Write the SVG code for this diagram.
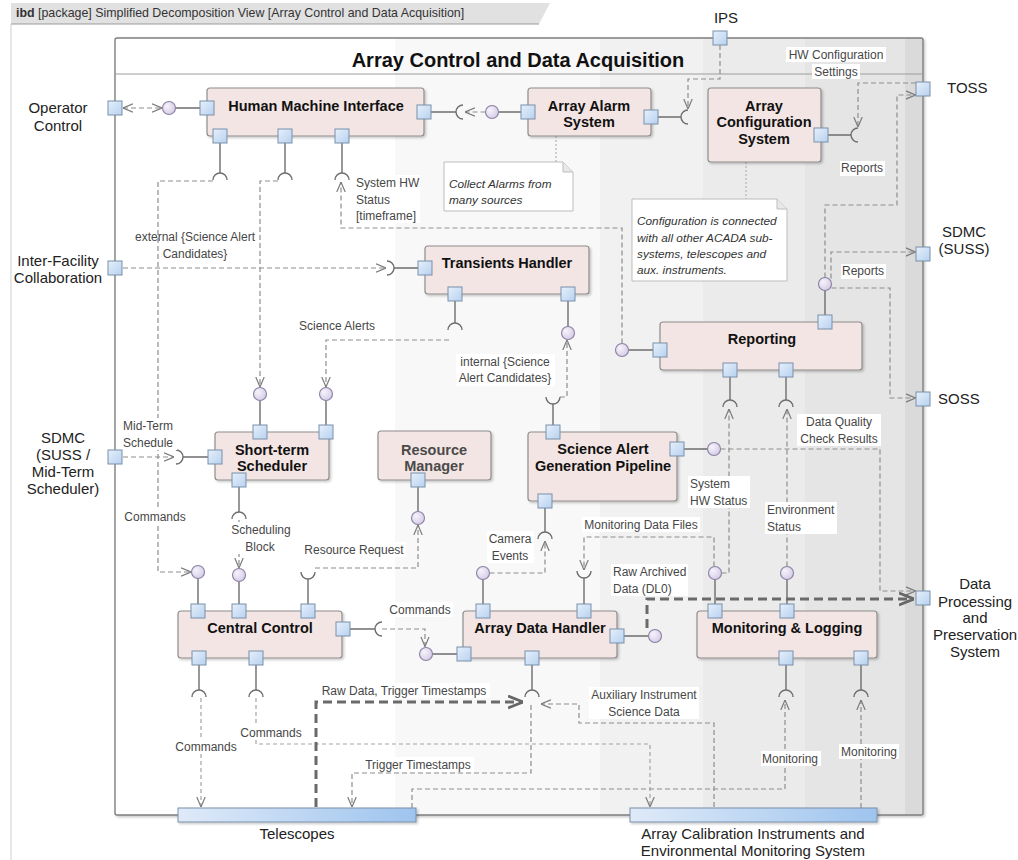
<svg xmlns="http://www.w3.org/2000/svg" width="1018" height="860" viewBox="0 0 1018 860">
<defs>
<linearGradient id="bg" gradientUnits="userSpaceOnUse" x1="115" y1="0" x2="923" y2="0">
<stop offset="0" stop-color="#ffffff"/><stop offset="0.3465" stop-color="#ffffff"/>
<stop offset="0.3465" stop-color="#f8f8f8"/><stop offset="0.6002" stop-color="#f8f8f8"/>
<stop offset="0.6002" stop-color="#f1f1f1"/><stop offset="0.7277" stop-color="#f1f1f1"/>
<stop offset="0.7277" stop-color="#ebebeb"/><stop offset="0.854" stop-color="#ebebeb"/>
<stop offset="0.854" stop-color="#e5e5e5"/><stop offset="0.9777" stop-color="#e5e5e5"/>
<stop offset="0.9777" stop-color="#dadada"/><stop offset="1" stop-color="#dadada"/>
</linearGradient>
<linearGradient id="pg" x1="0" y1="0" x2="1" y2="1"><stop offset="0" stop-color="#e6f0fc"/><stop offset="1" stop-color="#b7d1ef"/></linearGradient>
<linearGradient id="barg" x1="0" y1="0" x2="1" y2="0"><stop offset="0" stop-color="#dfeaf8"/><stop offset="1" stop-color="#9ec4ee"/></linearGradient>
<radialGradient id="ballg" cx="0.35" cy="0.35" r="0.75"><stop offset="0" stop-color="#f6f3fb"/><stop offset="1" stop-color="#d3c9e6"/></radialGradient>
<filter id="sh" x="-5%" y="-5%" width="115%" height="130%"><feDropShadow dx="1.5" dy="1.5" stdDeviation="1.2" flood-color="#000" flood-opacity="0.22"/></filter>
<marker id="arr" viewBox="0 0 10 10" refX="10" refY="5" markerWidth="10" markerHeight="10" orient="auto-start-reverse" markerUnits="userSpaceOnUse"><path d="M0,0.8 L10,5 L0,9.2" fill="none" stroke="#7c7c7c" stroke-width="1.2"/></marker>
<marker id="arrT" viewBox="0 0 10 10" refX="10" refY="5" markerWidth="15" markerHeight="15" orient="auto" markerUnits="userSpaceOnUse"><path d="M0,1 L10,5 L0,9" fill="none" stroke="#666" stroke-width="1.9"/></marker>
</defs>
<style>
.port{fill:url(#pg);stroke:#7a90aa;stroke-width:1}
.comp{fill:#f3e5e3;stroke:#8e8e8e;stroke-width:1.2;filter:url(#sh)}
.ct{font-family:"Liberation Sans",Arial,sans-serif;font-weight:bold;font-size:14.5px;fill:#111;text-anchor:middle}
.ext{font-family:"Liberation Sans",Arial,sans-serif;font-size:15px;fill:#222}
.lbl{font-family:"Liberation Sans",Arial,sans-serif;font-size:12px;fill:#474747}
.note{font-family:"Liberation Sans",Arial,sans-serif;font-style:italic;font-size:11.8px;fill:#333}
.m{text-anchor:middle}
.solid{stroke:#6e6e6e;stroke-width:1.4;fill:none}
.dash{stroke:#8e8e8e;stroke-width:1.2;stroke-dasharray:5 3;fill:none;marker-end:url(#arr)}
.dash2{stroke:#a3a3a3;stroke-width:1.2;stroke-dasharray:4 3;fill:none;marker-end:url(#arr)}
.na{marker-end:none}
.thick{stroke:#6a6a6a;stroke-width:3;stroke-dasharray:9 5;fill:none;marker-end:url(#arrT)}
.dot{stroke:#b4b4b4;stroke-width:1.2;stroke-dasharray:2 2;fill:none}
.ball{fill:url(#ballg);stroke:#8a80a2;stroke-width:1.1}
.sock{fill:none;stroke:#6e6e6e;stroke-width:1.4}
.bgw{fill:#fff}
.notebox{fill:#fff;stroke:#bdbdbd;stroke-width:1}
</style>

<g id="frame">
<line x1="11" y1="24" x2="11" y2="860" stroke="#cfcfcf" stroke-width="1"/>
<path d="M11,3 H550 L539,24 H11 Z" fill="#e1e1e1"/>
<line x1="11" y1="24" x2="539" y2="24" stroke="#9a9a9a" stroke-width="1.2"/>
<text x="16" y="17" font-family="Liberation Sans, Arial, sans-serif" font-size="12.4" fill="#333"><tspan font-weight="bold">ibd</tspan> [package] Simplified Decomposition View [Array Control and Data Acquisition]</text>
</g>

<g id="acada">
<rect x="115" y="38" width="808" height="777" rx="2" fill="url(#bg)" stroke="#7f7f7f" stroke-width="1.4" filter="url(#sh)"/>
<line x1="115" y1="74" x2="923" y2="74" stroke="#9c9c9c" stroke-width="1"/>
<text x="518" y="67" font-family="Liberation Sans, Arial, sans-serif" font-weight="bold" font-size="20" fill="#111" text-anchor="middle">Array Control and Data Acquisition</text>
</g>

<g id="notes">
<line class="dot" x1="556" y1="136" x2="556" y2="162"/>
<line class="dot" x1="746" y1="162" x2="746" y2="199"/>
<path class="notebox" d="M444,162 H563 L573,172 V211 H444 Z"/>
<path d="M563,162 V172 H573" fill="#e8e8e8" stroke="#bdbdbd"/>
<text class="note" x="449" y="188">Collect Alarms from</text>
<text class="note" x="449" y="204">many sources</text>
<path class="notebox" d="M632,199 H777 L787,209 V281 H632 Z"/>
<path d="M777,199 V209 H787" fill="#e8e8e8" stroke="#bdbdbd"/>
<text class="note" x="637" y="225">Configuration is connected</text>
<text class="note" x="637" y="242">with all other ACADA sub-</text>
<text class="note" x="637" y="258">systems, telescopes and</text>
<text class="note" x="637" y="274">aux. instruments.</text>
</g>

<g id="connectors">
<!-- solid port links -->
<path class="solid" d="M175.5,108 H200 M431,112 H456 M498.5,112 H521 M658,117 H681 M828,135 H851 M394,268 H418
M220,143 V173 M285,143 V173 M342,143 V173 M455,301 V323 M568,301 V326.5 M553,425 V404
M628.5,350 H653 M825,315 V290.5 M730,377 V400 M786,377 V400 M715,579.5 V604 M787,579.5 V604
M684,449 H707.5 M624,636 H648.5 M260,400.5 V425 M326,400.5 V425 M183,457 H208 M239,487 V512
M418,487 V511.5 M308,604 V579 M198,604 V578.5 M239,604 V581.5 M350,629 H375 M432.5,654 H457
M483,579.5 V604 M545,508 V532 M584,604 V578 M532,665 V690 M199,665 V690 M256,665 V690
M786,665 V690 M861,665 V690"/>
<!-- sockets -->
<path class="sock" d="M463,105 A7,7 0 0 0 463,119 M688,110 A7,7 0 0 0 688,124 M858,128 A7,7 0 0 0 858,142 M387,261 A7,7 0 0 1 387,275 M176,450 A7,7 0 0 1 176,464 M382,622 A7,7 0 0 0 382,636
M213,180 A7,7 0 0 1 227,180 M278,180 A7,7 0 0 1 292,180 M335,180 A7,7 0 0 1 349,180 M448,330 A7,7 0 0 1 462,330
M723,407 A7,7 0 0 1 737,407 M779,407 A7,7 0 0 1 793,407 M232,519 A7,7 0 0 1 246,519 M538,539 A7,7 0 0 1 552,539
M525,697 A7,7 0 0 1 539,697 M192,697 A7,7 0 0 1 206,697 M249,697 A7,7 0 0 1 263,697 M779,697 A7,7 0 0 1 793,697 M854,697 A7,7 0 0 1 868,697
M546,397 A7,7 0 0 0 560,397 M301,572 A7,7 0 0 0 315,572 M577,571 A7,7 0 0 0 591,571"/>
<!-- balls -->
<circle class="ball" cx="169" cy="108" r="6.5"/>
<circle class="ball" cx="492" cy="112" r="6.5"/>
<circle class="ball" cx="825" cy="284" r="6.5"/>
<circle class="ball" cx="622" cy="350" r="6.5"/>
<circle class="ball" cx="568" cy="333" r="6.5"/>
<circle class="ball" cx="260" cy="394" r="6.5"/>
<circle class="ball" cx="326" cy="394" r="6.5"/>
<circle class="ball" cx="714" cy="449" r="6.5"/>
<circle class="ball" cx="418" cy="518" r="6.5"/>
<circle class="ball" cx="198" cy="572" r="6.5"/>
<circle class="ball" cx="239" cy="575" r="6.5"/>
<circle class="ball" cx="483" cy="573" r="6.5"/>
<circle class="ball" cx="715" cy="573" r="6.5"/>
<circle class="ball" cx="787" cy="573" r="6.5"/>
<circle class="ball" cx="426" cy="654" r="6.5"/>
<circle class="ball" cx="655" cy="636" r="6.5"/>
<!-- dependencies -->
<path class="dash" d="M123,108 H162" marker-start="url(#arr)"/>
<path class="dash" d="M485.5,112 H465"/>
<path class="dash" d="M720,45 V79 H688 V109"/>
<path class="dash" d="M916,83 H858 V127"/>
<path class="dash" d="M825,277.5 V205 H897 V95 H915.5"/>
<path class="dash" d="M831,278.5 V252 H915.5"/>
<path class="dash" d="M831.5,288 H890 V398 H915.5"/>
<path class="dash" d="M123,268 H386"/>
<path class="dash" d="M213,181 H158 V572 H191"/>
<path class="dash" d="M278,181 H260 V387"/>
<path class="dash" d="M622,343.5 V228 H341 V182"/>
<path class="dash" d="M449,340 H326 V387"/>
<path class="dash" d="M560,397 H567 V340"/>
<path class="dash" d="M721.5,573 H729 V409"/>
<path class="dash" d="M787,566.5 V409"/>
<path class="dash" d="M714,566.5 V537 H584 V570"/>
<path class="dash" d="M720.5,449 H880 V591 H915.5"/>
<path class="dash" d="M123,457 H174"/>
<path class="dash" d="M239,520 V568"/>
<path class="dash" d="M315,568 H418 V525"/>
<path class="dash" d="M382,629 H425 V646.5"/>
<path class="dash" d="M489.5,573 H545 V541"/>
<path class="dash" d="M714,807 V723 H579 V704 H541"/>
<path class="dash" d="M531,705 V773 H352 V807"/>
<path class="dash2" d="M201,698 V807"/>
<path class="dash2" d="M256,698 V744 H650 V807"/>
<path class="dash" d="M412,808 V789 H785 V700"/>
<path class="dash" d="M861,808 V700"/>
<path class="thick" d="M647,628 V599 H914"/>
<path class="thick" d="M316,807 V702 H523"/>
</g>

<g id="labels">
<rect class="bgw" x="786" y="47" width="100" height="15"/>
<rect class="bgw" x="812" y="64" width="48" height="15"/>
<text class="lbl m" x="836" y="59">HW Configuration</text>
<text class="lbl m" x="836" y="76">Settings</text>
<rect class="bgw" x="840" y="161" width="45" height="15"/>
<text class="lbl m" x="862" y="172">Reports</text>
<rect class="bgw" x="841" y="264" width="45" height="15"/>
<text class="lbl m" x="863" y="275">Reports</text>
<rect class="bgw" x="354" y="175" width="66" height="48"/>
<text class="lbl" x="356" y="187">System HW</text>
<text class="lbl" x="356" y="204">Status</text>
<text class="lbl" x="356" y="220">[timeframe]</text>
<rect class="bgw" x="160" y="249" width="70" height="15"/>
<text class="lbl m" x="195" y="241">external {Science Alert</text>
<text class="lbl m" x="195" y="258">Candidates}</text>
<text class="lbl m" x="337" y="330">Science Alerts</text>
<rect class="bgw" x="456" y="354" width="99" height="32"/>
<text class="lbl m" x="505" y="366">internal {Science</text>
<text class="lbl m" x="505" y="382">Alert Candidates}</text>
<rect class="bgw" x="121" y="418" width="56" height="32"/>
<text class="lbl" x="123" y="430">Mid-Term</text>
<text class="lbl" x="123" y="447">Schedule</text>
<rect class="bgw" x="122" y="509" width="65" height="15"/>
<text class="lbl m" x="155" y="521">Commands</text>
<rect class="bgw" x="229" y="522" width="64" height="32"/>
<text class="lbl m" x="261" y="534">Scheduling</text>
<text class="lbl m" x="260" y="551">Block</text>
<rect class="bgw" x="303" y="542" width="103" height="15"/>
<text class="lbl m" x="354" y="554">Resource Request</text>
<rect class="bgw" x="797" y="414" width="84" height="32"/>
<text class="lbl m" x="839" y="426">Data Quality</text>
<text class="lbl m" x="839" y="443">Check Results</text>
<rect class="bgw" x="688" y="476" width="62" height="32"/>
<text class="lbl" x="690" y="488">System</text>
<text class="lbl" x="690" y="505">HW Status</text>
<rect class="bgw" x="765" y="502" width="72" height="32"/>
<text class="lbl" x="767" y="514">Environment</text>
<text class="lbl" x="767" y="531">Status</text>
<rect class="bgw" x="582" y="517" width="118" height="15"/>
<text class="lbl m" x="641" y="529">Monitoring Data Files</text>
<rect class="bgw" x="487" y="531" width="47" height="32"/>
<text class="lbl m" x="510" y="543">Camera</text>
<text class="lbl m" x="510" y="560">Events</text>
<rect class="bgw" x="611" y="564" width="77" height="32"/>
<text class="lbl" x="613" y="576">Raw Archived</text>
<text class="lbl" x="613" y="593">Data (DL0)</text>
<rect class="bgw" x="388" y="602" width="65" height="15"/>
<text class="lbl m" x="420" y="614">Commands</text>
<rect class="bgw" x="318" y="683" width="172" height="15"/>
<text class="lbl m" x="404" y="695">Raw Data, Trigger Timestamps</text>
<rect class="bgw" x="589" y="687" width="110" height="32"/>
<text class="lbl m" x="644" y="699">Auxiliary Instrument</text>
<text class="lbl m" x="644" y="716">Science Data</text>
<rect class="bgw" x="239" y="725" width="64" height="15"/>
<text class="lbl m" x="271" y="737">Commands</text>
<rect class="bgw" x="174" y="739" width="64" height="15"/>
<text class="lbl m" x="206" y="751">Commands</text>
<rect class="bgw" x="362" y="757" width="112" height="15"/>
<text class="lbl m" x="418" y="769">Trigger Timestamps</text>
<rect class="bgw" x="761" y="751" width="60" height="15"/>
<text class="lbl m" x="790" y="763">Monitoring</text>
<rect class="bgw" x="839" y="744" width="60" height="15"/>
<text class="lbl m" x="869" y="756">Monitoring</text>
</g>

<g id="hmi">
<rect class="comp" x="207" y="88" width="217" height="48" rx="3"/>
<text class="ct" x="316" y="111">Human Machine Interface</text>
<rect class="port" x="200" y="101" width="14" height="14"/>
<rect class="port" x="417" y="105" width="14" height="14"/>
<rect class="port" x="213" y="129" width="14" height="14"/>
<rect class="port" x="278" y="129" width="14" height="14"/>
<rect class="port" x="335" y="129" width="14" height="14"/>
</g>
<g id="array-alarm-system">
<rect class="comp" x="528" y="88" width="123" height="48" rx="3"/>
<text class="ct" x="589" y="111">Array Alarm</text>
<text class="ct" x="589" y="127">System</text>
<rect class="port" x="521" y="105" width="14" height="14"/>
<rect class="port" x="644" y="110" width="14" height="14"/>
</g>
<g id="array-configuration-system">
<rect class="comp" x="708" y="88" width="113" height="74" rx="3"/>
<text class="ct" x="764" y="111">Array</text>
<text class="ct" x="764" y="127">Configuration</text>
<text class="ct" x="764" y="144">System</text>
<rect class="port" x="814" y="128" width="14" height="14"/>
</g>
<g id="transients-handler">
<rect class="comp" x="425" y="246" width="164" height="48" rx="3"/>
<text class="ct" x="507" y="268">Transients Handler</text>
<rect class="port" x="418" y="261" width="14" height="14"/>
<rect class="port" x="448" y="287" width="14" height="14"/>
<rect class="port" x="561" y="287" width="14" height="14"/>
</g>
<g id="reporting">
<rect class="comp" x="660" y="322" width="202" height="48" rx="3"/>
<text class="ct" x="762" y="344">Reporting</text>
<rect class="port" x="653" y="343" width="14" height="14"/>
<rect class="port" x="818" y="315" width="14" height="14"/>
<rect class="port" x="723" y="363" width="14" height="14"/>
<rect class="port" x="779" y="363" width="14" height="14"/>
</g>
<g id="short-term-scheduler">
<rect class="comp" x="215" y="432" width="114" height="48" rx="3"/>
<text class="ct" x="272" y="455">Short-term</text>
<text class="ct" x="272" y="471">Scheduler</text>
<rect class="port" x="253" y="425" width="14" height="14"/>
<rect class="port" x="319" y="425" width="14" height="14"/>
<rect class="port" x="208" y="450" width="14" height="14"/>
<rect class="port" x="232" y="473" width="14" height="14"/>
</g>
<g id="resource-manager">
<rect class="comp" x="378" y="431" width="113" height="49" rx="3"/>
<text class="ct" x="434" y="455" style="fill:#4a4a4a">Resource</text>
<text class="ct" x="434" y="471" style="fill:#4a4a4a">Manager</text>
<rect class="port" x="411" y="473" width="14" height="14"/>
</g>
<g id="science-alert-generation-pipeline">
<rect class="comp" x="528" y="432" width="149" height="69" rx="3"/>
<text class="ct" x="603" y="454">Science Alert</text>
<text class="ct" x="603" y="471">Generation Pipeline</text>
<rect class="port" x="546" y="425" width="14" height="14"/>
<rect class="port" x="670" y="442" width="14" height="14"/>
<rect class="port" x="538" y="494" width="14" height="14"/>
</g>
<g id="central-control">
<rect class="comp" x="178" y="611" width="164" height="47" rx="3"/>
<text class="ct" x="260" y="633">Central Control</text>
<rect class="port" x="191" y="604" width="14" height="14"/>
<rect class="port" x="232" y="604" width="14" height="14"/>
<rect class="port" x="301" y="604" width="14" height="14"/>
<rect class="port" x="336" y="622" width="14" height="14"/>
<rect class="port" x="192" y="651" width="14" height="14"/>
<rect class="port" x="249" y="651" width="14" height="14"/>
</g>
<g id="array-data-handler">
<rect class="comp" x="463" y="611" width="154" height="47" rx="3"/>
<text class="ct" x="540" y="633">Array Data Handler</text>
<rect class="port" x="476" y="604" width="14" height="14"/>
<rect class="port" x="577" y="604" width="14" height="14"/>
<rect class="port" x="457" y="647" width="14" height="14"/>
<rect class="port" x="610" y="629" width="14" height="14"/>
<rect class="port" x="525" y="651" width="14" height="14"/>
</g>
<g id="monitoring-logging">
<rect class="comp" x="697" y="611" width="180" height="47" rx="3"/>
<text class="ct" x="787" y="633">Monitoring &amp; Logging</text>
<rect class="port" x="708" y="604" width="14" height="14"/>
<rect class="port" x="780" y="604" width="14" height="14"/>
<rect class="port" x="779" y="651" width="14" height="14"/>
<rect class="port" x="854" y="651" width="14" height="14"/>
</g>

<g id="operator-control">
<rect class="port" x="108" y="101" width="14" height="14"/>
<text class="ext m" x="58" y="113">Operator</text>
<text class="ext m" x="58" y="131">Control</text>
</g>
<g id="inter-facility">
<rect class="port" x="108" y="261" width="14" height="14"/>
<text class="ext m" x="58" y="266">Inter-Facility</text>
<text class="ext m" x="58" y="283">Collaboration</text>
</g>
<g id="sdmc-midterm">
<rect class="port" x="108" y="450" width="14" height="14"/>
<text class="ext m" x="63" y="443">SDMC</text>
<text class="ext m" x="63" y="460">(SUSS /</text>
<text class="ext m" x="63" y="477">Mid-Term</text>
<text class="ext m" x="63" y="494">Scheduler)</text>
</g>
<g id="ips">
<rect class="port" x="713" y="31" width="14" height="14"/>
<text class="ext m" x="726" y="23">IPS</text>
</g>
<g id="toss">
<rect class="port" x="916" y="82" width="14" height="14"/>
<text class="ext" x="947" y="93">TOSS</text>
</g>
<g id="sdmc-suss">
<rect class="port" x="916" y="247" width="14" height="14"/>
<text class="ext m" x="964" y="237">SDMC</text>
<text class="ext m" x="964" y="254">(SUSS)</text>
</g>
<g id="soss">
<rect class="port" x="916" y="392" width="14" height="14"/>
<text class="ext" x="938" y="404">SOSS</text>
</g>
<g id="dpps">
<rect class="port" x="916" y="591" width="14" height="14"/>
<text class="ext m" x="975" y="589">Data</text>
<text class="ext m" x="975" y="607">Processing</text>
<text class="ext m" x="975" y="623">and</text>
<text class="ext m" x="975" y="640">Preservation</text>
<text class="ext m" x="975" y="657">System</text>
</g>
<g id="telescopes">
<rect x="178" y="808" width="238" height="14" fill="url(#barg)" stroke="#7a90aa" stroke-width="1" filter="url(#sh)"/>
<text class="ext m" x="297" y="839">Telescopes</text>
</g>
<g id="array-calibration">
<rect x="630" y="808" width="247" height="14" fill="url(#barg)" stroke="#7a90aa" stroke-width="1" filter="url(#sh)"/>
<text class="ext m" x="753" y="839">Array Calibration Instruments and</text>
<text class="ext m" x="753" y="856">Environmental Monitoring System</text>
</g>
</svg>
